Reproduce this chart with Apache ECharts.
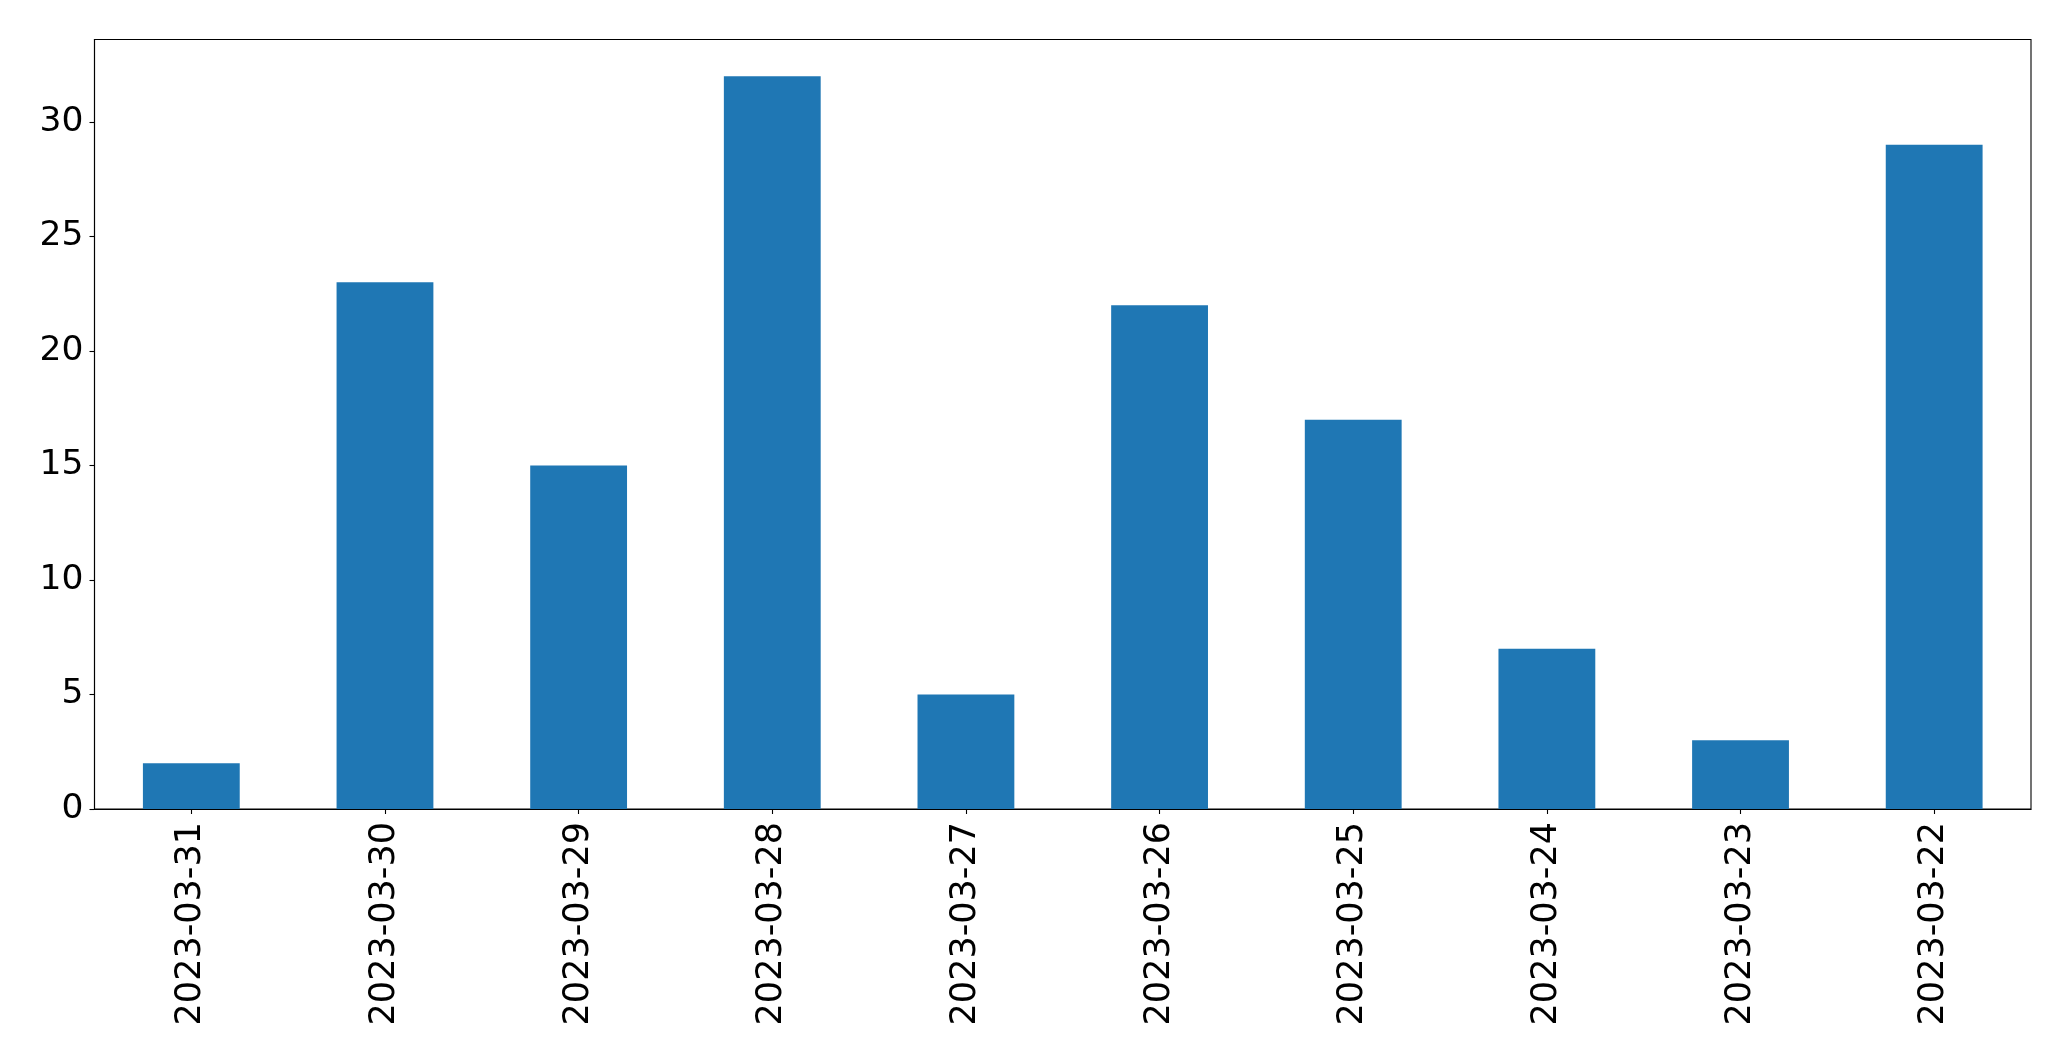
<!DOCTYPE html>
<html>
<head>
<meta charset="utf-8">
<script src="https://cdn.jsdelivr.net/npm/echarts@6/dist/echarts.min.js"></script>
<style>
html,body{margin:0;padding:0;background:#fff;}
#chart{width:2071px;height:1061px;}
</style>
</head>
<body>
<div id="chart"></div>
<script>
const categories = ['2023-03-31','2023-03-30','2023-03-29','2023-03-28','2023-03-27','2023-03-26','2023-03-25','2023-03-24','2023-03-23','2023-03-22'];
const values = [2, 23, 15, 32, 5, 22, 17, 7, 3, 29];
const yTicks = [0, 5, 10, 15, 20, 25, 30];

const chart = echarts.init(document.getElementById('chart'), null, {renderer: 'canvas'});
const font = 'DejaVu Sans';
chart.setOption({
  animation: false,
  backgroundColor: '#ffffff',
  grid: {
    left: 94.5, right: 40, top: 39.5, bottom: 252,
    show: true, borderColor: '#000', borderWidth: 1.1, backgroundColor: 'transparent'
  },
  xAxis: {
    type: 'category',
    data: categories,
    boundaryGap: true,
    axisLine: {show: true, lineStyle: {color: '#000', width: 1.1}},
    axisTick: {show: true, alignWithLabel: true, length: 5, lineStyle: {color: '#000', width: 1.1}},
    axisLabel: {rotate: 90, margin: 13, padding: [4, 0, 0, 0], fontFamily: font, fontSize: 35, color: '#000', interval: 0},
    splitLine: {show: false}
  },
  yAxis: {
    type: 'value',
    min: 0, max: 33.6,
    axisLine: {show: true, lineStyle: {color: '#000', width: 1.1}},
    axisTick: {show: true, length: 5, customValues: yTicks, lineStyle: {color: '#000', width: 1.1}},
    axisLabel: {customValues: yTicks, margin: 11, fontFamily: font, fontSize: 34.5, color: '#000'},
    splitLine: {show: false}
  },
  series: [{
    type: 'bar',
    data: values,
    barWidth: '50%',
    itemStyle: {color: '#1f77b4'}
  }]
});
</script>
</body>
</html>
